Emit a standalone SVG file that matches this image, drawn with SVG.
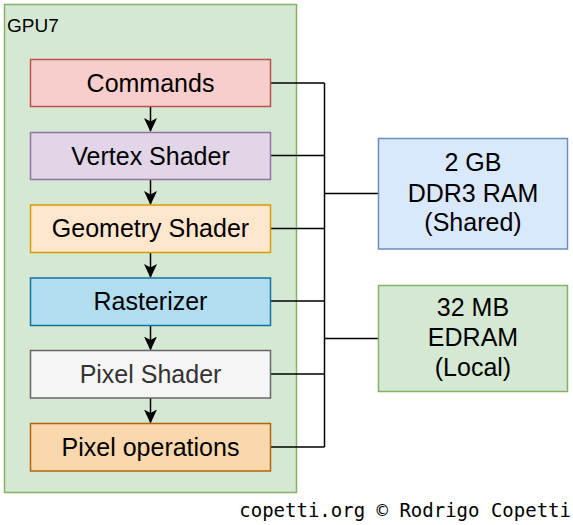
<svg xmlns="http://www.w3.org/2000/svg" width="573" height="525" viewBox="0 0 573 525">
<style>
text{font-family:"Liberation Sans",Arial,Helvetica,sans-serif;fill:#000}
.t{font-size:25px;text-anchor:middle}
.box{stroke-width:1.5}
.ln{stroke:#000;stroke-width:1.5;fill:none}
</style>
<defs>
<marker id="ah" viewBox="0 0 14 13" refX="13" refY="6.5" markerWidth="14" markerHeight="13" markerUnits="userSpaceOnUse" orient="auto">
<path d="M0,0 L14,6.5 L0,13 L3.5,6.5 Z" fill="#000"/>
</marker>
</defs>
<rect width="573" height="525" fill="#fff"/>
<g id="gpu7">
<rect x="4.5" y="4.5" width="292" height="488" fill="#d5e8d4" stroke="#82b366" class="box"/>
<text x="7" y="32" style="font-size:19px">GPU7</text>
</g>
<g id="connectors">
<path class="ln" d="M150.5,106.5V131" marker-end="url(#ah)"/>
<path class="ln" d="M150.5,179.5V204" marker-end="url(#ah)"/>
<path class="ln" d="M150.5,252.5V277" marker-end="url(#ah)"/>
<path class="ln" d="M150.5,325.5V349.5" marker-end="url(#ah)"/>
<path class="ln" d="M150.5,398V422.5" marker-end="url(#ah)"/>
<path class="ln" d="M270.5,83H324.5M270.5,155.5H324.5M270.5,228.5H324.5M270.5,301H324.5M270.5,374H324.5M270.5,447H324.5M324.5,83V447M324.5,193.5H378.5M324.5,338.5H378.5"/>
</g>
<g id="commands">
<rect x="30.5" y="59.5" width="240" height="47" fill="#f8cecc" stroke="#b85450" class="box"/>
<text class="t" x="150.5" y="91.5">Commands</text>
</g>
<g id="vertex-shader">
<rect x="30.5" y="132.5" width="240" height="47" fill="#e1d5e7" stroke="#9673a6" class="box"/>
<text class="t" x="150.5" y="164.5">Vertex Shader</text>
</g>
<g id="geometry-shader">
<rect x="30.5" y="205" width="240" height="47.5" fill="#ffe6cc" stroke="#d79b00" class="box"/>
<text class="t" x="150.5" y="237">Geometry Shader</text>
</g>
<g id="rasterizer">
<rect x="30.5" y="278" width="240" height="47.5" fill="#b1ddf0" stroke="#10739e" class="box"/>
<text class="t" x="150.5" y="310">Rasterizer</text>
</g>
<g id="pixel-shader">
<rect x="30.5" y="350.5" width="240" height="47.5" fill="#f5f5f5" stroke="#666666" class="box"/>
<text class="t" x="150.5" y="382.5" style="fill:#333333">Pixel Shader</text>
</g>
<g id="pixel-operations">
<rect x="30.5" y="423.5" width="240" height="47.5" fill="#fad7ac" stroke="#b46504" class="box"/>
<text class="t" x="150.5" y="455.5">Pixel operations</text>
</g>
<g id="ddr3">
<rect x="378.5" y="138.5" width="189" height="110.5" fill="#dae8fc" stroke="#6c8ebf" class="box"/>
<text class="t" x="473" y="171">2 GB</text>
<text class="t" x="473" y="201.5">DDR3 RAM</text>
<text class="t" x="473" y="231">(Shared)</text>
</g>
<g id="edram">
<rect x="378.5" y="285.5" width="189" height="106" fill="#d5e8d4" stroke="#82b366" class="box"/>
<text class="t" x="473" y="316">32 MB</text>
<text class="t" x="473" y="346">EDRAM</text>
<text class="t" x="473" y="376">(Local)</text>
</g>
<text x="571" y="517" style="font-family:'DejaVu Sans Mono',monospace;font-size:19px;text-anchor:end">copetti.org © Rodrigo Copetti</text>
</svg>
